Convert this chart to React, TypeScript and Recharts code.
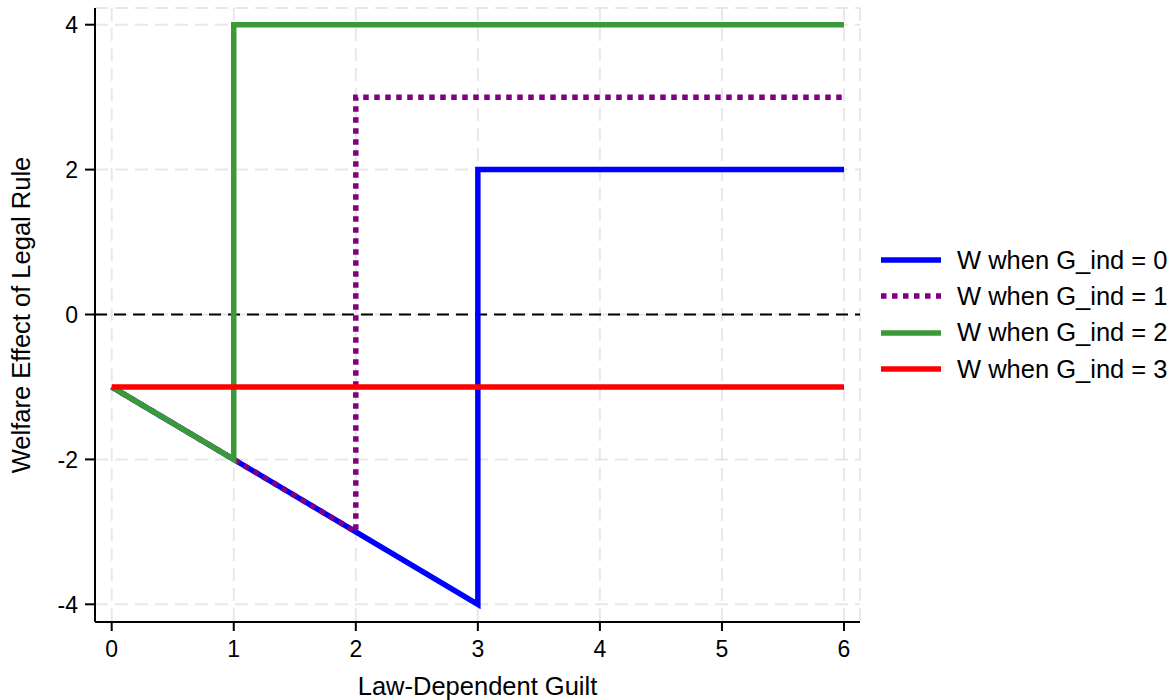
import React from "react";
import {
  LineChart,
  Line,
  XAxis,
  YAxis,
  CartesianGrid,
  ReferenceLine,
  Legend,
} from "recharts";

// Law-dependent guilt levels at which each welfare path is evaluated
const guiltG0 = [0, 3, 3, 6];
const welfareG0 = [-1, -4, 2, 2];

const guiltG1 = [0, 2, 2, 6];
const welfareG1 = [-1, -3, 3, 3];

const guiltG2 = [0, 1, 1, 6];
const welfareG2 = [-1, -2, 4, 4];

const guiltG3 = [0, 6];
const welfareG3 = [-1, -1];

const xTicks = [0, 1, 2, 3, 4, 5, 6];
const yTicks = [-4, -2, 0, 2, 4];

const seriesNames = [
  "W when G_ind = 0",
  "W when G_ind = 1",
  "W when G_ind = 2",
  "W when G_ind = 3",
];

const toPoints = (xs: number[], ys: number[]) =>
  xs.map((g, i) => ({ g, w: ys[i] }));

const FONT = '"Liberation Sans", Arial, Helvetica, sans-serif';

const series = [
  { name: seriesNames[0], data: toPoints(guiltG0, welfareG0), color: "#0000ff", dash: undefined as string | undefined },
  { name: seriesNames[1], data: toPoints(guiltG1, welfareG1), color: "#800080", dash: "5.5 5.5" },
  { name: seriesNames[2], data: toPoints(guiltG2, welfareG2), color: "#3a9a3a", dash: undefined },
  { name: seriesNames[3], data: toPoints(guiltG3, welfareG3), color: "#ff0000", dash: undefined },
];

const renderLegend = () => (
  <div style={{ fontFamily: FONT, fontSize: 25.5, color: "#000" }}>
    {series.map((s) => (
      <div
        key={s.name}
        style={{ display: "flex", alignItems: "center", height: 36.3, whiteSpace: "nowrap" }}
      >
        <svg width={60} height={8} style={{ marginRight: 16, display: "block" }}>
          <line
            x1={0}
            y1={4}
            x2={60}
            y2={4}
            stroke={s.color}
            strokeWidth={5.5}
            strokeDasharray={s.dash}
          />
        </svg>
        <span>{s.name}</span>
      </div>
    ))}
  </div>
);

const XTick = (props: any) => {
  const { x, y, payload } = props;
  return (
    <text x={x} y={y} dy={16.3} textAnchor="middle" fontFamily={FONT} fontSize={23} fill="#000">
      {payload.value}
    </text>
  );
};

const YTick = (props: any) => {
  const { x, y, payload } = props;
  return (
    <text x={x} y={y} dy={8.2} textAnchor="end" fontFamily={FONT} fontSize={23} fill="#000">
      {payload.value}
    </text>
  );
};

const XTitle = (props: any) => {
  const { viewBox } = props;
  return (
    <text
      x={viewBox.x + viewBox.width / 2}
      y={695}
      textAnchor="middle"
      fontFamily={FONT}
      fontSize={25.5}
      fill="#000"
    >
      Law-Dependent Guilt
    </text>
  );
};

const YTitle = (props: any) => {
  const { viewBox } = props;
  const cy = viewBox.y + viewBox.height / 2;
  return (
    <text
      x={30}
      y={cy}
      transform={`rotate(-90, 30, ${cy})`}
      textAnchor="middle"
      fontFamily={FONT}
      fontSize={25.5}
      fill="#000"
    >
      Welfare Effect of Legal Rule
    </text>
  );
};

export default function App() {
  return (
    <div style={{ position: "absolute", left: 0, top: 0, background: "#fff" }}>
      <LineChart
        width={1175}
        height={700}
        margin={{ top: 8, right: 315, bottom: 0, left: 0 }}
      >
        <CartesianGrid
          stroke="#e8e8e8"
          strokeWidth={2}
          strokeDasharray="13 7"
        />
        <XAxis
          type="number"
          dataKey="g"
          domain={[-0.1368, 6.131]}
          ticks={xTicks}
          allowDataOverflow
          height={78}
          tickSize={9}
          tickMargin={10}
          axisLine={{ stroke: "#000", strokeWidth: 2 }}
          tickLine={{ stroke: "#000", strokeWidth: 2 }}
          tick={<XTick />}
          label={<XTitle />}
        />
        <YAxis
          type="number"
          dataKey="w"
          domain={[-4.2443, 4.2305]}
          ticks={yTicks}
          allowDataOverflow
          width={95}
          tickSize={10}
          tickMargin={7}
          axisLine={{ stroke: "#000", strokeWidth: 2 }}
          tickLine={{ stroke: "#000", strokeWidth: 2 }}
          tick={<YTick />}
          label={<YTitle />}
        />
        <ReferenceLine
          y={0}
          stroke="#000"
          strokeWidth={2}
          strokeDasharray="12 7"
        />
        {series.map((s) => (
          <Line
            key={s.name}
            name={s.name}
            data={s.data}
            dataKey="w"
            type="linear"
            stroke={s.color}
            strokeWidth={5.5}
            strokeDasharray={s.dash}
            dot={false}
            activeDot={false}
            isAnimationActive={false}
            strokeLinejoin="miter"
            strokeLinecap="butt"
          />
        ))}
        <Legend
          layout="horizontal"
          align="center"
          verticalAlign="middle"
          content={renderLegend}
          wrapperStyle={{ position: "absolute", left: 881, top: 242, width: 294, right: "auto", bottom: "auto" }}
        />
      </LineChart>
    </div>
  );
}
